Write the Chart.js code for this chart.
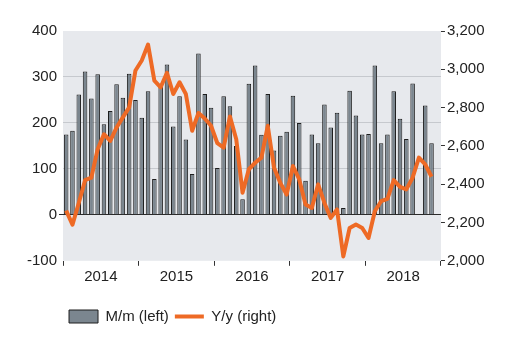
<!DOCTYPE html>
<html><head><meta charset="utf-8">
<script src="https://cdn.jsdelivr.net/npm/chart.js@4.4.0/dist/chart.umd.min.js"></script>
<style>html,body{margin:0;padding:0;background:#fff}</style>
</head><body>
<canvas id="c" width="508" height="355"></canvas>
<script>
const startYear = 2014;
const monthNames = ['Jan','Feb','Mar','Apr','May','Jun','Jul','Aug','Sep','Oct','Nov','Dec'];
const yearLabels = ['2014','2015','2016','2017','2018'];
// M/m, left axis (Jan 2014 - Nov 2018)
const mmValues = [
  175, 183, 262, 312, 253, 306, 197, 226, 284, 255, 307, 250,
  211, 269, 78, 279, 327, 192, 258, 164, 89, 351, 263, 233,
  102, 258, 236, 150, 34, 285, 325, 174, 263, 140, 172, 181,
  259, 200, 74, 175, 156, 240, 190, 222, 15, 270, 216, 175,
  176, 325, 156, 175, 269, 209, 165, 286, null, 238, 156
];
// Y/y, right axis
const yyValues = [
  2262, 2189, 2302, 2421, 2434, 2583, 2661, 2626, 2696, 2749, 2801, 2994,
  3046, 3129, 2941, 2906, 2982, 2871, 2932, 2871, 2679, 2772, 2743, 2705,
  2614, 2591, 2754, 2635, 2355, 2478, 2512, 2539, 2705, 2486, 2407, 2346,
  2495, 2425, 2294, 2276, 2399, 2302, 2224, 2268, 2023, 2171, 2189, 2171,
  2119, 2259, 2311, 2323, 2421, 2386, 2373, 2434, 2539, 2504, 2439
];
const categories = mmValues.map((_, i) => monthNames[i % 12] + ' ' + (startYear + Math.floor(i / 12)));
const slot = (i) => i + 0.5; // month i sits in the middle of its slot

Chart.defaults.font.family = '"Liberation Sans", Arial, sans-serif';
Chart.defaults.font.size = 15;
Chart.defaults.color = '#222';

const plotBg = {
  id: 'plotBg',
  beforeDraw(chart) {
    const { ctx, chartArea: a } = chart;
    ctx.save();
    ctx.fillStyle = '#e7e9ed';
    ctx.fillRect(a.left, a.top, a.right - a.left, a.bottom - a.top);
    ctx.restore();
  }
};

const clear = 'rgba(0,0,0,0)';

new Chart(document.getElementById('c'), {
  data: {
    datasets: [
      {
        type: 'line', label: 'Y/y (right)', yAxisID: 'y2', order: 1,
        data: yyValues.map((v, i) => ({ x: slot(i), y: v })),
        borderColor: '#ee6a25', backgroundColor: '#ee6a25', borderWidth: 4,
        pointRadius: 0, pointStyle: 'line', tension: 0, borderJoinStyle: 'round'
      },
      {
        type: 'bar', label: 'M/m (left)', yAxisID: 'y', order: 2,
        data: mmValues.map((v, i) => ({ x: slot(i), y: v })),
        backgroundColor: '#7b868f', borderColor: '#1e1e1e', borderWidth: 1,
        categoryPercentage: 1, barPercentage: 0.72, pointStyle: 'rect'
      }
    ]
  },
  options: {
    responsive: false, animation: false, devicePixelRatio: 1,
    layout: { padding: { left: 25, right: 21.5, top: 31, bottom: 21 } },
    plugins: {
      tooltip: { enabled: false },
      legend: {
        position: 'bottom', align: 'start', fullSize: false,
        labels: {
          usePointStyle: true, pointStyleWidth: 29, boxHeight: 13, padding: 6,
          color: '#222', font: { size: 15 },
          sort: (a, b) => b.datasetIndex - a.datasetIndex,
          generateLabels: (chart) => {
            const items = Chart.defaults.plugins.legend.labels.generateLabels(chart);
            items.forEach(it => {
              const ds = chart.data.datasets[it.datasetIndex];
              it.pointStyle = ds.type === 'line' ? 'line' : 'rect';
            });
            return items;
          }
        }
      }
    },
    scales: {
      x: {
        type: 'linear', min: 0, max: categories.length + 1, offset: false,
        ticks: {
          stepSize: 6, autoSkip: false, maxRotation: 0, padding: 2,
          callback: (v) => (v % 12 === 6 ? yearLabels[(v - 6) / 12] : '')
        },
        grid: {
          offset: false, drawOnChartArea: false, drawTicks: true, tickLength: 5,
          tickColor: (c) => (c.tick && c.tick.value % 12 === 0 ? '#333' : clear)
        },
        border: { display: false },
        title: { display: true, text: '', font: { size: 1 }, padding: { top: 14, bottom: 0 } }
      },
      y: {
        position: 'left', min: -100, max: 400,
        ticks: { stepSize: 100, padding: 2 },
        grid: {
          color: (c) => (c.tick.value === 0 ? '#2a2a2a' : (c.tick.value > -100 && c.tick.value < 400 ? '#c6c9ce' : clear)),
          tickLength: 4,
          tickColor: (c) => (c.tick.value === 0 ? '#2a2a2a' : clear)
        },
        border: { display: false }
      },
      y2: {
        position: 'right', min: 2000, max: 3200,
        ticks: { stepSize: 200, padding: 2 },
        grid: { drawOnChartArea: false, tickLength: 4, tickColor: '#333' },
        border: { display: false }
      }
    }
  },
  plugins: [plotBg]
});
</script>
</body></html>
